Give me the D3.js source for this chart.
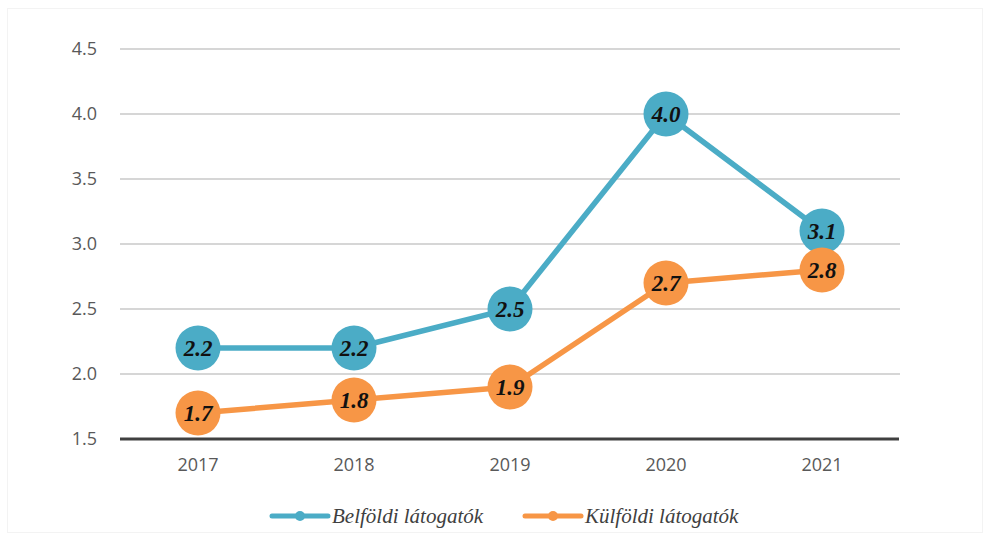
<!DOCTYPE html>
<html><head><meta charset="utf-8">
<script src="https://cdn.jsdelivr.net/npm/d3@7"></script>
<style>body{margin:0;background:#fff}svg{display:block}</style>
</head><body>
<svg id="c" width="987" height="537"></svg>
<script>
const categories = ["2017","2018","2019","2020","2021"];
const belfoldi = [2.2, 2.2, 2.5, 4.0, 3.1];
const kulfoldi = [1.7, 1.8, 1.9, 2.7, 2.8];
const yTicks = [1.5, 2.0, 2.5, 3.0, 3.5, 4.0, 4.5];
const seriesNames = ["Belföldi látogatók", "Külföldi látogatók"];
const seriesColors = ["#4BACC6", "#F79646"];

const svg = d3.select("#c");
svg.append("rect").attr("x",7.5).attr("y",8.5).attr("width",975).attr("height",524)
  .attr("fill","none").attr("stroke","#f3f3f3");

const x = d3.scaleBand().domain(categories).range([120, 900]);
const y = d3.scaleLinear().domain([1.5, 4.5]).range([439, 49]);
const sans = "'Open Sans', 'Noto Sans', sans-serif";

// gridlines
svg.append("g").selectAll("line").data(yTicks.slice(1)).join("line")
  .attr("x1",120).attr("x2",900).attr("y1",d=>y(d)).attr("y2",d=>y(d))
  .attr("stroke","#c8c8c8").attr("stroke-width",1.5);

// y axis labels
const yAxis = d3.axisLeft(y).tickValues(yTicks).tickFormat(d3.format(".1f")).tickSize(0).tickPadding(0);
const gy = svg.append("g").attr("transform","translate(97,0)").call(yAxis);
gy.select(".domain").remove();
gy.selectAll("text").attr("font-family",sans).attr("font-size",18).attr("fill","#595959");

// baseline
svg.append("line").attr("x1",120).attr("x2",899).attr("y1",y(1.5)).attr("y2",y(1.5))
  .attr("stroke","#404040").attr("stroke-width",3);

// x axis labels
const xAxis = d3.axisBottom(x).tickSize(0).tickPadding(0);
const gx = svg.append("g").attr("transform","translate(0,458)").call(xAxis);
gx.select(".domain").remove();
gx.selectAll("text").attr("font-family",sans).attr("font-size",18).attr("fill","#595959").attr("dy","0.71em");

const line = d3.line().x((d,i)=>x(categories[i])+x.bandwidth()/2).y(d=>y(d));
[belfoldi, kulfoldi].forEach((vals, si) => {
  const g = svg.append("g");
  g.append("path").datum(vals).attr("d", line).attr("fill","none")
    .attr("stroke", seriesColors[si]).attr("stroke-width",5.5).attr("stroke-linejoin","round");
  g.selectAll("circle").data(vals).join("circle")
    .attr("cx",(d,i)=>x(categories[i])+x.bandwidth()/2).attr("cy",d=>y(d)).attr("r",22.5)
    .attr("fill", seriesColors[si]);
  g.selectAll("text").data(vals).join("text")
    .attr("x",(d,i)=>x(categories[i])+x.bandwidth()/2).attr("y",d=>y(d)).attr("dy","0.35em")
    .attr("text-anchor","middle").attr("font-family","'Liberation Serif', 'DejaVu Serif', serif")
    .attr("font-style","italic").attr("font-weight","bold").attr("font-size",23).attr("fill","#111")
    .text(d=>d3.format(".1f")(d));
});

// legend
const legendX = [272, 525];
seriesNames.forEach((name, i) => {
  const g = svg.append("g").attr("transform",`translate(${legendX[i]},516)`);
  g.append("line").attr("x1",0).attr("x2",56).attr("y1",0).attr("y2",0)
    .attr("stroke",seriesColors[i]).attr("stroke-width",5).attr("stroke-linecap","round");
  g.append("circle").attr("cx",28).attr("cy",0).attr("r",5).attr("fill",seriesColors[i]);
  g.append("text").attr("x",60).attr("y",0).attr("dy","0.35em")
    .attr("font-family","'Liberation Serif', serif").attr("font-style","italic")
    .attr("font-size",21).attr("fill","#404040").text(name);
});
</script>
</body></html>
